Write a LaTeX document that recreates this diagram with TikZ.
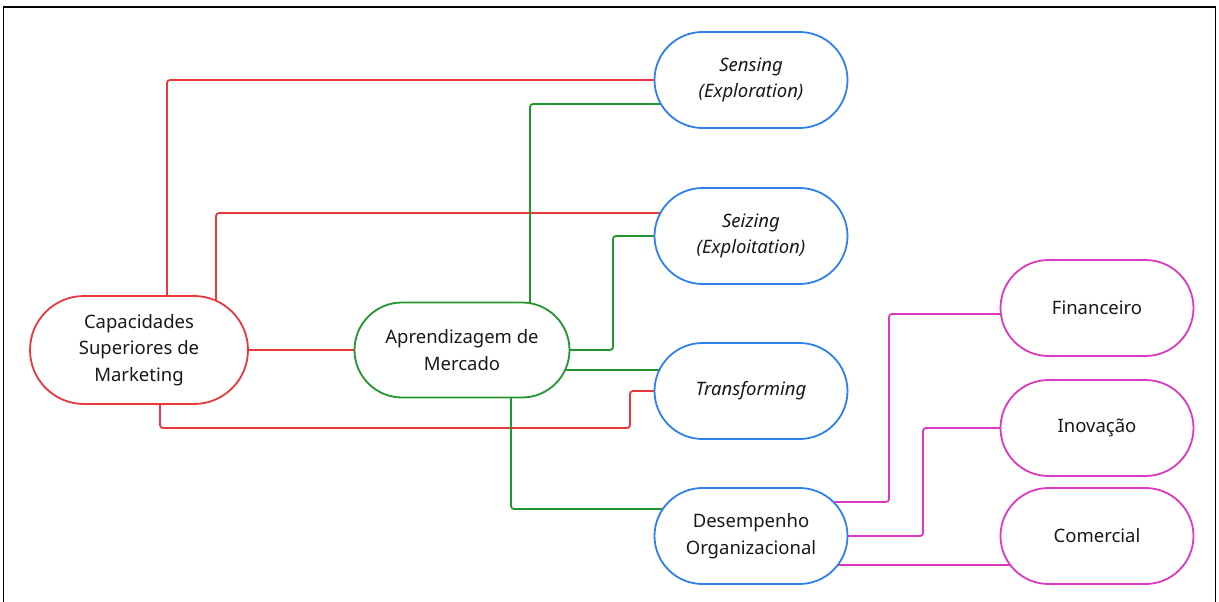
\documentclass[tikz,border=0pt]{standalone}
\usepackage{fontspec}
\setmainfont{Noto Sans}
\usetikzlibrary{shapes.misc,backgrounds,calc}
\definecolor{cred}{RGB}{232,56,60}
\definecolor{cgreen}{RGB}{34,150,46}
\definecolor{cblue}{RGB}{47,128,237}
\definecolor{cmag}{RGB}{220,56,192}
\definecolor{ctext}{RGB}{25,25,25}
\begin{document}
\begin{tikzpicture}[x=1pt,y=-1pt,
  pill/.style={rounded rectangle, draw=#1, fill=white, line width=1.8pt,
    minimum width=193pt, minimum height=96pt, inner sep=0pt, align=center,
    text=ctext, font=\fontsize{18.5}{26.5}\selectfont},
  conn/.style={draw=#1, line width=1.8pt, rounded corners=3pt}]
\useasboundingbox (0,0) rectangle (1219,602);
\draw[line width=1.2pt] (3.5,602) -- (3.5,7) -- (1215.5,7) -- (1215.5,602);
\draw[line width=2.4pt] (2.9,7) -- (1216.1,7);

\node[pill=cred, minimum width=218pt, minimum height=108pt] (Cap) at (139,350) {Capacidades\\Superiores de\\Marketing};
\node[pill=cgreen, minimum width=215pt, minimum height=95pt] (Apr) at (462,350) {Aprendizagem de\\Mercado};
\node[pill=cblue] (Sens) at (751,80) {\itshape Sensing\\\itshape (Exploration)};
\node[pill=cblue] (Seiz) at (751,236) {\itshape Seizing\\\itshape (Exploitation)};
\node[pill=cblue] (Trans) at (751,391) {\itshape Transforming};
\node[pill=cblue] (Des) at (751,536) {Desempenho\\Organizacional};
\node[pill=cmag] (Fin) at (1097,308) {Financeiro};
\node[pill=cmag] (Ino) at (1097,428) {Inovação};
\node[pill=cmag] (Com) at (1097,536) {Comercial};

\begin{scope}[on background layer]
% red
\draw[conn=cred] ($(Cap.center)+(28,0)$) |- (Sens.center);
\draw[conn=cred] ($(Cap.center)+(77,0)$) |- ($(Seiz.center)+(0,-23)$);
\draw[conn=cred] (Cap.center) -- (Apr.center);
\draw[conn=cred] ($(Cap.center)+(21,0)$) -- ++(0,78) -| ($(Trans.center)+(-121,0)$) -- (Trans.center);
% green
\draw[conn=cgreen] ($(Apr.center)+(68,0)$) |- ($(Sens.center)+(0,24)$);
\draw[conn=cgreen] (Apr.center) -| ($(Seiz.center)+(-138,0)$) -- (Seiz.center);
\draw[conn=cgreen] ($(Apr.center)+(0,20)$) -- ($(Trans.center)+(0,-21)$);
\draw[conn=cgreen] ($(Apr.center)+(49,0)$) |- ($(Des.center)+(0,-27)$);
% magenta
\draw[conn=cmag] ($(Des.center)+(0,-34)$) -| ($(Fin.center)+(-208,6)$) -- ($(Fin.center)+(0,6)$);
\draw[conn=cmag] (Des.center) -| ($(Ino.center)+(-174,0)$) -- (Ino.center);
\draw[conn=cmag] ($(Des.center)+(0,29)$) -- ($(Com.center)+(0,29)$);
\end{scope}
\end{tikzpicture}
\end{document}
